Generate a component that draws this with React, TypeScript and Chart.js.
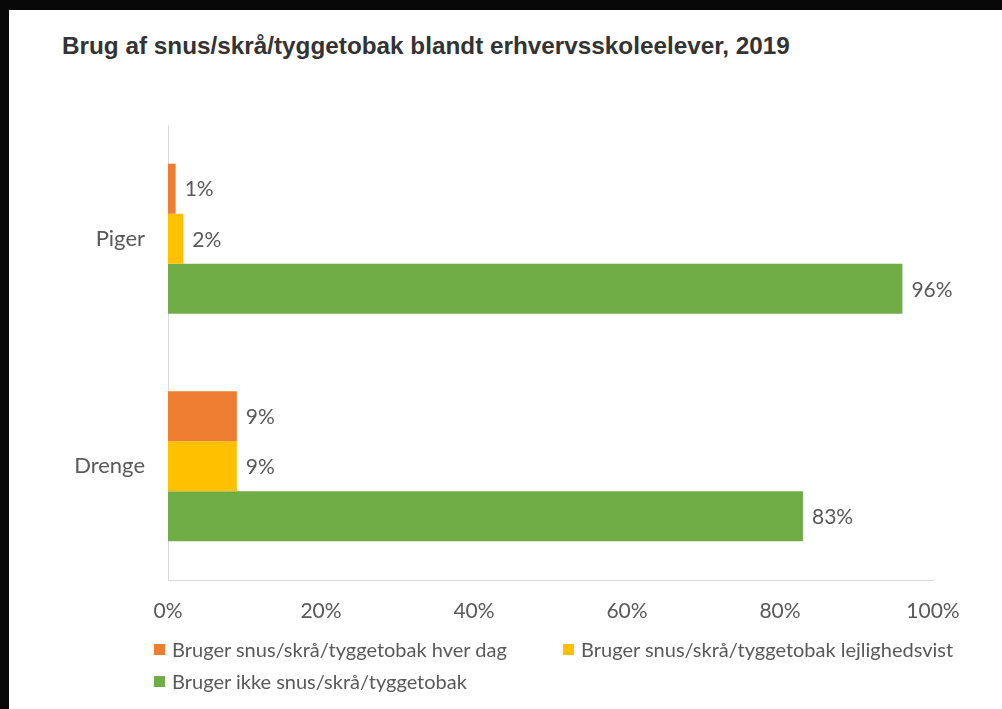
import React, { useEffect, useRef } from "react";
import { Chart, registerables } from "chart.js";

Chart.register(...registerables);

const categories = ["Piger", "Drenge"];
const seriesNames = [
  "Bruger snus/skrå/tyggetobak hver dag",
  "Bruger snus/skrå/tyggetobak lejlighedsvist",
  "Bruger ikke snus/skrå/tyggetobak",
];
const dailyValues = [1, 9];
const occasionalValues = [2, 9];
const neverValues = [96, 83];
const seriesColors = ["#ED7D31", "#FFC000", "#70AD47"];
const xTicks = [0, 20, 40, 60, 80, 100];

const TITLE = "Brug af snus/skrå/tyggetobak blandt erhvervsskoleelever, 2019";
const TEXT_GRAY = "#595959";
const AXIS_GRAY = "#D9D9D9";
const FONT = "Lato, 'Open Sans', sans-serif";

const dataLabelPlugin = {
  id: "dataLabels",
  afterDatasetsDraw(chart: any) {
    const ctx = chart.ctx;
    ctx.save();
    ctx.font = `21px ${FONT}`;
    ctx.fillStyle = TEXT_GRAY;
    ctx.textAlign = "left";
    ctx.textBaseline = "middle";
    chart.data.datasets.forEach((ds: any, i: number) => {
      const meta = chart.getDatasetMeta(i);
      meta.data.forEach((el: any, j: number) => {
        ctx.fillText(`${ds.data[j]}%`, el.x + 9, el.y + 1);
      });
    });
    ctx.restore();
  },
};

export default function App() {
  const canvasRef = useRef<HTMLCanvasElement | null>(null);

  useEffect(() => {
    if (!canvasRef.current) return;
    const chart = new Chart(canvasRef.current, {
      type: "bar",
      data: {
        labels: categories,
        datasets: [dailyValues, occasionalValues, neverValues].map((vals, i) => ({
          label: seriesNames[i],
          data: vals,
          backgroundColor: seriesColors[i],
          borderWidth: 0,
          barPercentage: 1,
          categoryPercentage: 0.66,
        })),
      },
      options: {
        indexAxis: "y",
        responsive: false,
        animation: false,
        devicePixelRatio: 1,
        layout: { padding: { left: 0, right: 69, top: 125, bottom: 0 } },
        plugins: {
          legend: { display: false },
          title: { display: false },
          tooltip: { enabled: false },
        },
        scales: {
          x: {
            min: 0,
            max: 100,
            afterBuildTicks: (scale: any) => {
              scale.ticks = xTicks.map((v) => ({ value: v }));
            },
            afterFit: (scale: any) => {
              scale.height = 129;
            },
            grid: { display: false, drawTicks: false },
            border: { display: true, color: AXIS_GRAY, width: 1 },
            ticks: {
              padding: 19,
              color: TEXT_GRAY,
              font: { family: FONT, size: 21 },
              callback: (v: any) => `${v}%`,
              maxRotation: 0,
            },
          },
          y: {
            afterFit: (scale: any) => {
              scale.width = 168;
            },
            grid: { display: false, drawTicks: false },
            border: { display: true, color: AXIS_GRAY, width: 1 },
            ticks: {
              padding: 23,
              color: TEXT_GRAY,
              font: { family: FONT, size: 22 },
            },
          },
        },
      },
      plugins: [dataLabelPlugin],
    } as any);
    return () => chart.destroy();
  }, []);

  const legendItem = (i: number, left: number, top: number) => (
    <div
      key={i}
      style={{
        position: "absolute",
        left,
        top,
        height: 24,
        display: "flex",
        alignItems: "center",
        whiteSpace: "nowrap",
        fontFamily: FONT,
        fontSize: 20,
        color: TEXT_GRAY,
      }}
    >
      <span
        style={{
          display: "inline-block",
          width: 11,
          height: 11,
          background: seriesColors[i],
          marginRight: 7,
        }}
      />
      {seriesNames[i]}
    </div>
  );

  return (
    <div
      style={{
        position: "fixed",
        left: 0,
        top: 0,
        width: 1002,
        height: 709,
        background: "#080808",
        overflow: "hidden",
      }}
    >
      <div
        style={{
          position: "absolute",
          left: 9,
          top: 10,
          width: 993,
          height: 699,
          background: "#FFFFFF",
        }}
      />
      <div
        style={{
          position: "absolute",
          left: 62,
          top: 32,
          fontFamily: "'Liberation Sans', Arial, sans-serif",
          fontWeight: "bold",
          fontSize: 24.3,
          lineHeight: "28px",
          color: "#333333",
          whiteSpace: "nowrap",
        }}
      >
        {TITLE}
      </div>
      <canvas
        ref={canvasRef}
        width={1002}
        height={709}
        style={{ position: "absolute", left: 0, top: 0, display: "block" }}
      />
      {legendItem(0, 154, 637)}
      {legendItem(1, 563, 637)}
      {legendItem(2, 154, 669)}
    </div>
  );
}
